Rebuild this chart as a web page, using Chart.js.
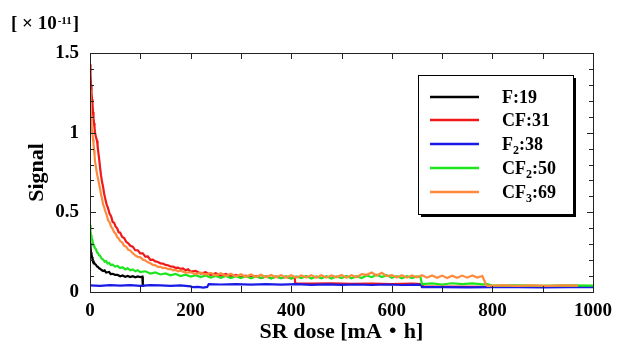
<!DOCTYPE html>
<html><head><meta charset="utf-8">
<script src="https://cdn.jsdelivr.net/npm/chart.js@4/dist/chart.umd.min.js"></script>
<style>html,body{margin:0;padding:0;background:#fff;}#wrap{width:620px;height:348px;}</style>
</head><body><div id="wrap"><canvas id="c" width="620" height="348"></canvas></div>
<script>
// ---- data ----
const seriesLabels = ['F:19', 'CF:31', 'F\u2082:38', 'CF\u2082:50', 'CF\u2083:69'];
const xTickValues = [0, 200, 400, 600, 800, 1000];
const yTickValues = [0, 0.5, 1, 1.5];
const yUnitLabel = ['[ \u00d7 10', '-11', ']'];

const f19X = [0,1,2,3,4,5,6,8,10,12,14,16,18,20,23,26,29,32,35,38,41,45,50,55,60,65,70,75,80,85,90,95,100,104,105,108];
const f19Y = [0.31,0.28,0.25,0.235,0.22,0.21,0.2,0.185,0.175,0.17,0.16,0.158,0.148,0.146,0.138,0.132,0.136,0.122,0.124,0.126,0.113,0.114,0.108,0.107,0.099,0.104,0.095,0.101,0.094,0.099,0.092,0.098,0.094,0.097,0.04,0.04];

const cf31X = [0,1,2,3,4,5,6,7,8,9,10,12,14,15,16,18,20,22,24,26,28,30,33,36,39,42,45,48,51,54,57,60,64,68,72,76,80,85,90,95,100,105,110,115,120,125,130,135,140,145,150,155,160,165,170,175,180,185,190,195,200,210,220,230,240,250,260,270,280,290,300,310,320,330,340,350,360,370,380,390,400,407,408,440,480,520,560,600,640,660,662,700,800,900,1000];
const cf31Y = [1.43,1.36,1.3,1.25,1.21,1.18,1.13,1.09,1.06,1.03,1.0,0.97,0.95,0.92,0.89,0.84,0.78,0.73,0.69,0.66,0.62,0.59,0.55,0.525,0.49,0.475,0.44,0.435,0.41,0.4,0.375,0.372,0.345,0.338,0.315,0.305,0.29,0.285,0.262,0.262,0.242,0.243,0.222,0.223,0.202,0.203,0.192,0.188,0.18,0.178,0.17,0.168,0.16,0.159,0.152,0.153,0.145,0.148,0.136,0.142,0.128,0.132,0.116,0.124,0.106,0.118,0.102,0.113,0.097,0.107,0.093,0.102,0.092,0.101,0.088,0.097,0.087,0.096,0.088,0.094,0.086,0.092,0.055,0.052,0.054,0.051,0.053,0.05,0.052,0.05,0.035,0.034,0.033,0.034,0.033];

const f2X = [0,20,40,60,80,100,120,140,160,180,200,205,215,225,233,236,260,290,320,350,380,410,440,470,500,530,560,590,620,650,658,660,700,750,800,850,900,950,1000];
const f2Y = [0.042,0.039,0.043,0.04,0.043,0.039,0.043,0.041,0.039,0.042,0.035,0.03,0.032,0.028,0.032,0.05,0.047,0.05,0.046,0.049,0.046,0.049,0.045,0.048,0.045,0.047,0.044,0.047,0.044,0.046,0.045,0.03,0.031,0.029,0.03,0.031,0.029,0.03,0.03];

const cf2X = [0,1,2,3,4,5,6,8,10,12,14,16,18,20,23,26,29,32,35,38,41,45,50,55,60,65,70,75,80,85,90,95,100,110,120,130,140,150,160,170,180,190,200,210,220,230,240,250,260,270,280,290,300,310,320,330,340,350,360,370,380,390,400,410,420,430,440,450,460,470,480,490,500,510,520,530,540,550,560,570,580,590,600,610,620,630,640,650,657,660,680,700,720,740,760,780,790,800,850,900,950,1000];
const cf2Y = [0.42,0.38,0.36,0.345,0.33,0.32,0.305,0.29,0.275,0.268,0.248,0.244,0.23,0.228,0.21,0.204,0.19,0.194,0.178,0.183,0.17,0.172,0.16,0.163,0.15,0.155,0.142,0.149,0.136,0.142,0.13,0.137,0.125,0.13,0.116,0.123,0.11,0.117,0.105,0.113,0.1,0.109,0.097,0.106,0.094,0.104,0.091,0.101,0.089,0.1,0.087,0.099,0.088,0.1,0.086,0.098,0.087,0.099,0.085,0.098,0.086,0.099,0.085,0.098,0.087,0.1,0.085,0.098,0.086,0.099,0.085,0.098,0.087,0.1,0.086,0.099,0.088,0.104,0.093,0.108,0.094,0.106,0.089,0.1,0.086,0.099,0.087,0.098,0.093,0.05,0.054,0.047,0.055,0.049,0.054,0.048,0.05,0.04,0.042,0.038,0.041,0.04];

const cf3X = [0,1,2,3,4,5,6,7,8,9,10,12,14,16,18,20,22,24,26,28,30,33,36,39,42,45,48,51,54,57,60,64,68,72,76,80,85,90,95,100,105,110,115,120,125,130,135,140,145,150,155,160,165,170,175,180,190,200,210,220,230,240,250,260,270,280,290,300,310,320,330,340,350,360,370,380,390,400,410,420,430,440,450,460,470,480,490,500,510,520,530,540,550,560,570,580,590,600,610,620,630,640,650,660,670,680,690,700,710,720,730,740,750,760,770,780,788,791,820,850,880,910,940,970,1000];
const cf3Y = [1.27,1.18,1.1,1.05,1.01,0.99,0.96,0.93,0.89,0.86,0.82,0.78,0.74,0.71,0.68,0.65,0.61,0.585,0.55,0.535,0.51,0.485,0.45,0.437,0.41,0.396,0.375,0.366,0.345,0.336,0.32,0.31,0.29,0.284,0.265,0.26,0.243,0.23,0.22,0.218,0.203,0.198,0.186,0.18,0.17,0.168,0.158,0.158,0.15,0.152,0.143,0.145,0.136,0.139,0.13,0.134,0.122,0.124,0.112,0.121,0.11,0.12,0.104,0.118,0.1,0.114,0.098,0.112,0.096,0.11,0.094,0.108,0.093,0.107,0.092,0.106,0.091,0.105,0.09,0.104,0.091,0.106,0.09,0.105,0.09,0.104,0.092,0.107,0.09,0.106,0.093,0.112,0.108,0.122,0.104,0.12,0.1,0.106,0.091,0.105,0.09,0.104,0.092,0.105,0.09,0.104,0.089,0.103,0.088,0.102,0.089,0.103,0.09,0.104,0.091,0.1,0.042,0.039,0.042,0.038,0.041,0.039,0.042,0.04];

const seriesX = [f19X, cf31X, f2X, cf2X, cf3X];
const seriesY = [f19Y, cf31Y, f2Y, cf2Y, cf3Y];
const seriesColors = ['#000000', '#f01818', '#1a1ae6', '#1ee61e', '#ff8a3c'];
const drawOrder = [4, 3, 2, 1, 0];

const SERIF = "'Liberation Serif', 'Noto Sans CJK JP', serif";

// ---- plugin: frame, inward ticks, unit label, legend ----
const decor = {
  id: 'decor',
  afterDatasetsDraw(chart) {
    const ctx = chart.ctx, a = chart.chartArea;
    const xs = chart.scales.x, ys = chart.scales.y;
    ctx.save();
    ctx.strokeStyle = '#222'; ctx.lineWidth = 1;
    ctx.strokeRect(Math.round(a.left) + 0.5, Math.round(a.top) + 0.5, Math.round(a.right - a.left), Math.round(a.bottom - a.top));
    ctx.beginPath();
    for (let v = 0; v <= 1000; v += 100) {
      const px = Math.round(xs.getPixelForValue(v)) + 0.5;
      ctx.moveTo(px, a.bottom); ctx.lineTo(px, a.bottom - 6);
      ctx.moveTo(px, a.top); ctx.lineTo(px, a.top + 6);
    }
    for (let k = 0; k <= 15; k++) {
      const py = Math.round(ys.getPixelForValue(k / 10)) + 0.5;
      const len = (k % 5 === 0) ? 6 : 4;
      ctx.moveTo(a.left, py); ctx.lineTo(a.left + len, py);
      ctx.moveTo(a.right, py); ctx.lineTo(a.right - len, py);
    }
    ctx.stroke();
    ctx.restore();
  },
  afterDraw(chart) {
    const ctx = chart.ctx;
    ctx.save();
    ctx.fillStyle = '#000';
    ctx.textBaseline = 'alphabetic';
    ctx.font = 'bold 19px ' + SERIF;
    let x = 11;
    ctx.fillText(yUnitLabel[0], x, 29); x += ctx.measureText(yUnitLabel[0]).width;
    ctx.font = 'bold 11px ' + SERIF;
    ctx.fillText(yUnitLabel[1], x + 1, 24); x += ctx.measureText(yUnitLabel[1]).width + 2;
    ctx.font = 'bold 19px ' + SERIF;
    ctx.fillText(yUnitLabel[2], x, 29);

    const L = 418, T = 75, W = 155, H = 139;
    ctx.fillStyle = '#000';
    ctx.fillRect(L + 3, T + 3, W, H);
    ctx.fillStyle = '#fff';
    ctx.fillRect(L, T, W, H);
    ctx.strokeStyle = '#000'; ctx.lineWidth = 1;
    ctx.strokeRect(L + 0.5, T + 0.5, W, H);
    const rows = [97, 120, 144, 168, 192];
    chart.data.datasets.forEach((ds, i) => {
      const y = rows[i];
      ctx.strokeStyle = ds.borderColor; ctx.lineWidth = 2.5;
      ctx.beginPath(); ctx.moveTo(430, y); ctx.lineTo(479, y); ctx.stroke();
      let tx = 502;
      const base = y + 6;
      ctx.fillStyle = '#000';
      for (const ch of ds.label) {
        const code = ch.charCodeAt(0);
        if (code >= 0x2080 && code <= 0x2089) {
          const d = String(code - 0x2080);
          ctx.font = 'bold 12px ' + SERIF;
          ctx.fillText(d, tx, base + 4);
          tx += ctx.measureText(d).width;
        } else {
          ctx.font = 'bold 18px ' + SERIF;
          ctx.fillText(ch, tx, base);
          tx += ctx.measureText(ch).width;
        }
      }
    });
    ctx.restore();
  }
};

const datasets = seriesLabels.map((lab, i) => ({
  label: lab,
  data: seriesX[i].map((xv, j) => ({ x: xv, y: seriesY[i][j] })),
  borderColor: seriesColors[i],
  backgroundColor: seriesColors[i],
  borderWidth: 2.2,
  pointRadius: 0,
  tension: 0,
  fill: false,
  order: drawOrder[i]
}));

new Chart(document.getElementById('c'), {
  type: 'line',
  data: { datasets },
  plugins: [decor],
  options: {
    responsive: false,
    animation: false,
    devicePixelRatio: 1,
    layout: { padding: { top: 53, right: 22, left: 0, bottom: 0 } },
    plugins: { legend: { display: false }, tooltip: { enabled: false } },
    scales: {
      x: {
        type: 'linear', min: 0, max: 1000,
        afterBuildTicks: s => { s.ticks = xTickValues.map(v => ({ value: v })); },
        ticks: { callback: v => String(v), color: '#000', padding: 8, maxRotation: 0,
          font: { family: SERIF, size: 19, weight: 'bold' } },
        grid: { display: false, drawTicks: false },
        border: { display: false },
        title: { display: true, text: 'SR dose [mA\u30fbh]', color: '#000',
          font: { family: SERIF, size: 22, weight: 'bold' }, padding: { top: 2, bottom: 2 } },
        afterFit: s => { s.height = 56; }
      },
      y: {
        type: 'linear', min: 0, max: 1.5,
        afterBuildTicks: s => { s.ticks = yTickValues.map(v => ({ value: v })); },
        ticks: { callback: v => String(v), color: '#000', padding: 11,
          font: { family: SERIF, size: 19, weight: 'bold' } },
        grid: { display: false, drawTicks: false },
        border: { display: false },
        title: { display: true, text: 'Signal', color: '#000',
          font: { family: SERIF, size: 22, weight: 'bold' }, padding: { top: 24, bottom: 24 } },
        afterFit: s => { s.width = 90; }
      }
    }
  }
});
</script>
</body></html>
